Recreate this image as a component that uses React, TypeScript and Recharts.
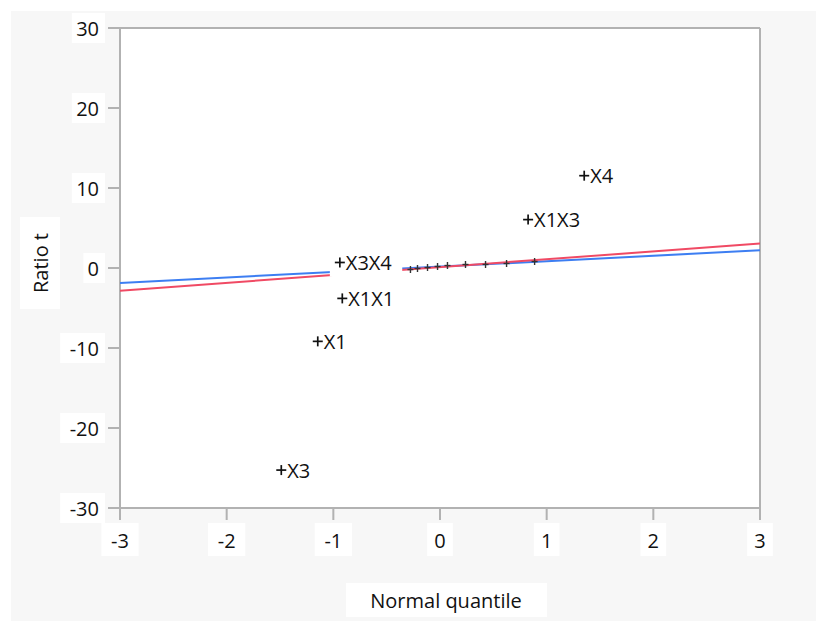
import React from 'react';
import { ScatterChart, Scatter, XAxis, YAxis, CartesianGrid, ReferenceLine } from 'recharts';

const xTicks = [-3, -2, -1, 0, 1, 2, 3];
const yTicks = [-30, -20, -10, 0, 10, 20, 30];
const fitX = [-3, 3];
const blueFitY = [-1.86, 2.21];
const redFitY = [-2.83, 3.05];
const labeledNames = ['X3', 'X1', 'X1X1', 'X3X4', 'X1X3', 'X4'];
const labeledQuantiles = [-1.488, -1.146, -0.916, -0.939, 0.826, 1.352];
const labeledT = [-25.26, -9.17, -3.8, 0.69, 6.05, 11.54];
const otherQuantiles = [-0.277, -0.211, -0.117, -0.023, 0.07, 0.239, 0.427, 0.624, 0.887];
const otherT = [-0.19, -0.06, 0.06, 0.19, 0.31, 0.44, 0.44, 0.56, 0.81];

const FONT = '"Open Sans", sans-serif';
const FS = 20;
const AXIS = '#b2b2b2';

const blueLine = fitX.map((x, i) => ({ x, y: blueFitY[i] }));
const redLine = fitX.map((x, i) => ({ x, y: redFitY[i] }));
const labeled = labeledNames.map((name, i) => ({ x: labeledQuantiles[i], y: labeledT[i], name }));
const others = otherQuantiles.map((x, i) => ({ x, y: otherT[i] }));

const textW = (s: string, fs: number) => s.length * fs * 0.58;

const YTick = (props: any) => {
  const { x, y, payload } = props;
  const s = String(payload.value);
  const w = textW(s, FS);
  const right = x - 1;
  return (
    <g>
      <rect x={right - w - 10} y={y - 15} width={w + 10} height={30} fill="#fff" />
      <text x={right - 6} y={y} textAnchor="end" dominantBaseline="central" fontFamily={FONT} fontSize={FS} fill="#111">{s}</text>
    </g>
  );
};

const XTick = (props: any) => {
  const { x, y, payload } = props;
  const s = String(payload.value);
  const w = textW(s, FS) + 14;
  return (
    <g>
      <rect x={x - w / 2} y={y + 1} width={w} height={33} fill="#fff" />
      <text x={x} y={y + 18} textAnchor="middle" dominantBaseline="central" fontFamily={FONT} fontSize={FS} fill="#111">{s}</text>
    </g>
  );
};

const LabeledPoint = (props: any) => {
  const { cx, cy, payload } = props;
  const w = textW(payload.name, FS);
  return (
    <g>
      <rect x={cx - 10} y={cy - 14} width={w + 26} height={28} fill="#fff" />
      <line x1={cx - 5} y1={cy} x2={cx + 5} y2={cy} stroke="#111" strokeWidth={1.7} />
      <line x1={cx} y1={cy - 5} x2={cx} y2={cy + 5} stroke="#111" strokeWidth={1.7} />
      <text x={cx + 6} y={cy} dominantBaseline="central" fontFamily={FONT} fontSize={FS} fill="#111">{payload.name}</text>
    </g>
  );
};

const SmallPoint = (props: any) => {
  const { cx, cy } = props;
  return (
    <g>
      <line x1={cx - 3} y1={cy} x2={cx + 3} y2={cy} stroke="#333" strokeWidth={1.4} />
      <line x1={cx} y1={cy - 3.5} x2={cx} y2={cy + 3.5} stroke="#333" strokeWidth={1.4} />
    </g>
  );
};

const NoShape = () => <g />;

const XLabel = () => {
  const cx = 446;
  const cy = 600;
  return (
    <g>
      <rect x={cx - 100} y={cy - 17} width={201} height={34} fill="#fff" />
      <text x={cx} y={cy} textAnchor="middle" dominantBaseline="central" fontFamily={FONT} fontSize={FS} fill="#111">Normal quantile</text>
    </g>
  );
};

const YLabel = () => {
  const cx = 40;
  const cy = 263;
  return (
    <g>
      <rect x={cx - 20} y={cy - 46} width={40} height={92} fill="#fff" />
      <text x={cx} y={cy} transform={`rotate(-90 ${cx} ${cy})`} textAnchor="middle" dominantBaseline="central" fontFamily={FONT} fontSize={FS} fill="#111">Ratio t</text>
    </g>
  );
};

export default function App() {
  return (
    <div style={{ position: 'absolute', left: 0, top: 0, width: 816, height: 621, background: '#fff', overflow: 'hidden' }}>
      <div style={{ position: 'absolute', left: 11, top: 11, right: 0, bottom: 0, background: '#f7f7f7' }} />
      <div style={{ position: 'absolute', left: 0, top: 0 }}>
        <ScatterChart width={816} height={621} margin={{ top: 28, right: 56, bottom: 53, left: 60 }}>
          <CartesianGrid horizontal={false} vertical={false} fill="#ffffff" />
          <XAxis
            type="number"
            dataKey="x"
            domain={[-3, 3]}
            ticks={xTicks}
            height={60}
            tickSize={12}
            axisLine={{ stroke: AXIS, strokeWidth: 2 }}
            tickLine={{ stroke: AXIS, strokeWidth: 2 }}
            tick={<XTick />}
            label={{ content: <XLabel /> }}
            allowDataOverflow
          />
          <YAxis
            type="number"
            dataKey="y"
            domain={[-30, 30]}
            ticks={yTicks}
            width={60}
            tickSize={12}
            axisLine={{ stroke: AXIS, strokeWidth: 2 }}
            tickLine={{ stroke: AXIS, strokeWidth: 2 }}
            tick={<YTick />}
            label={{ content: <YLabel /> }}
            allowDataOverflow
          />
          <ReferenceLine y={30} stroke={AXIS} strokeWidth={2} />
          <ReferenceLine x={3} stroke={AXIS} strokeWidth={2} />
          <Scatter data={blueLine} line={{ stroke: '#3d7ef2', strokeWidth: 2 }} lineType="joint" shape={<NoShape />} isAnimationActive={false} />
          <Scatter data={redLine} line={{ stroke: '#f04a64', strokeWidth: 2 }} lineType="joint" shape={<NoShape />} isAnimationActive={false} />
          <Scatter data={others} shape={<SmallPoint />} isAnimationActive={false} />
          <Scatter data={labeled} shape={<LabeledPoint />} isAnimationActive={false} />
        </ScatterChart>
      </div>
    </div>
  );
}
